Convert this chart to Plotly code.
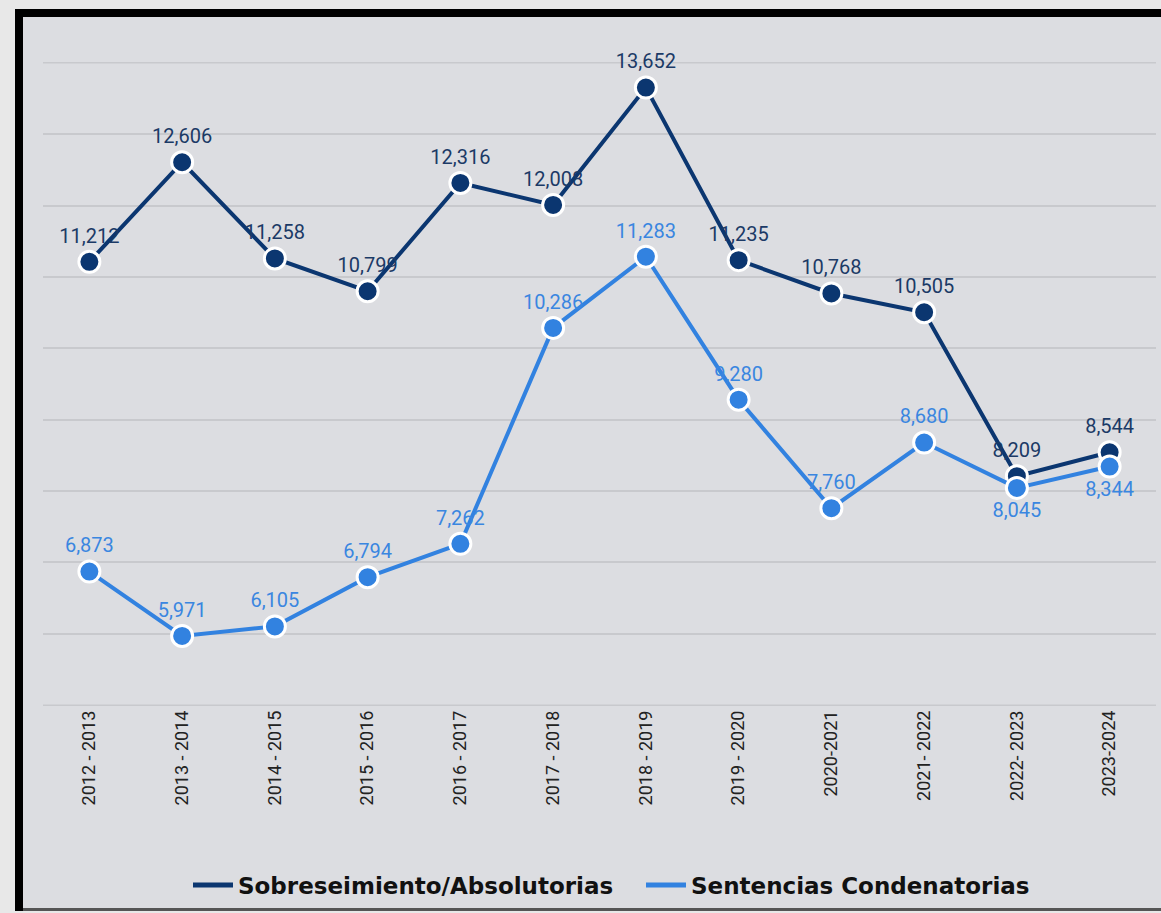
import plotly.graph_objects as go

categories = ["2012 - 2013", "2013 - 2014", "2014 - 2015", "2015 - 2016", "2016 - 2017",
              "2017 - 2018", "2018 - 2019", "2019 - 2020", "2020-2021", "2021- 2022",
              "2022- 2023", "2023-2024"]
sobreseimiento = [11212, 12606, 11258, 10799, 12316, 12008, 13652, 11235, 10768, 10505, 8209, 8544]
condenatorias = [6873, 5971, 6105, 6794, 7262, 10286, 11283, 9280, 7760, 8680, 8045, 8344]
series_names = ["Sobreseimiento/Absolutorias", "Sentencias Condenatorias"]
y_min, y_max = 5000, 14000

dark = "#0b3670"
light = "#3282e0"
grid = "#c8c9cd"

W, H = 1161, 913
L, R, T, B = 43, 5, 62, 207
pw, ph = W - L - R, H - T - B

def px_x(p):
    return (p - L) / pw

def px_y(p):
    return (H - B - p) / ph

fig = go.Figure()
fig.add_trace(go.Scatter(
    x=categories, y=sobreseimiento, name=series_names[0], showlegend=False,
    mode="lines+markers+text",
    line=dict(color=dark, width=4),
    marker=dict(size=21, color=dark, line=dict(color="white", width=3)),
    text=[f"{v:,}" for v in sobreseimiento],
    textposition="top center",
    textfont=dict(family="Roboto", size=20, color="#1b3a66"),
    cliponaxis=False,
))
light_pos = ["top center"] * 10 + ["bottom center", "bottom center"]
fig.add_trace(go.Scatter(
    x=categories, y=condenatorias, name=series_names[1], showlegend=False,
    mode="lines+markers+text",
    line=dict(color=light, width=4),
    marker=dict(size=21, color=light, line=dict(color="white", width=3)),
    text=[f"{v:,}" for v in condenatorias],
    textposition=light_pos,
    textfont=dict(family="Roboto", size=20, color="#3a86e0"),
    cliponaxis=False,
))
# legend-only entries (line swatches)
fig.add_trace(go.Scatter(x=[None], y=[None], mode="lines", name=series_names[0],
                         line=dict(color=dark, width=5)))
fig.add_trace(go.Scatter(x=[None], y=[None], mode="lines", name=series_names[1],
                         line=dict(color=light, width=5)))

shapes = [
    dict(type="rect", xref="paper", yref="paper", layer="below",
         x0=px_x(15), x1=px_x(1175), y0=px_y(911), y1=px_y(9),
         fillcolor="#000000", line=dict(width=0)),
    dict(type="rect", xref="paper", yref="paper", layer="below",
         x0=px_x(23), x1=px_x(1175), y0=px_y(908), y1=px_y(17),
         fillcolor="#dcdde1", line=dict(width=0)),
    dict(type="rect", xref="paper", yref="paper", layer="below",
         x0=px_x(23), x1=px_x(1175), y0=px_y(911), y1=px_y(908),
         fillcolor="#555555", line=dict(width=0)),
]
for yv in (y_min, y_max):
    shapes.append(dict(type="line", xref="paper", yref="y", layer="below",
                       x0=0, x1=1, y0=yv, y1=yv, line=dict(color=grid, width=1.5)))

fig.update_layout(
    width=W, height=H,
    margin=dict(l=L, r=R, t=T, b=B),
    paper_bgcolor="#e8e8e8",
    plot_bgcolor="rgba(0,0,0,0)",
    shapes=shapes,
    showlegend=True,
    legend=dict(orientation="h", x=px_x(188), xanchor="left", y=px_y(885), yanchor="middle",
                font=dict(family="DejaVu Sans", size=23, color="#111111", weight="bold"),
                bgcolor="rgba(0,0,0,0)", itemwidth=40,
                entrywidth=398, entrywidthmode="pixels"),
    xaxis=dict(type="category", tickangle=-90, showgrid=False, showline=False, zeroline=False,
               ticks="", tickfont=dict(family="Roboto", size=18, color="#222222"),
               range=[-0.5, 11.5]),
    yaxis=dict(range=[y_min - 10, y_max + 10], dtick=1000, tick0=y_min, showticklabels=False,
               showgrid=True, gridcolor=grid, gridwidth=1.5, zeroline=False, showline=False),
)

fig.write_html("out.html", config={"displayModeBar": False},
               post_script="document.body.style.margin='0';document.body.style.overflow='hidden';")
